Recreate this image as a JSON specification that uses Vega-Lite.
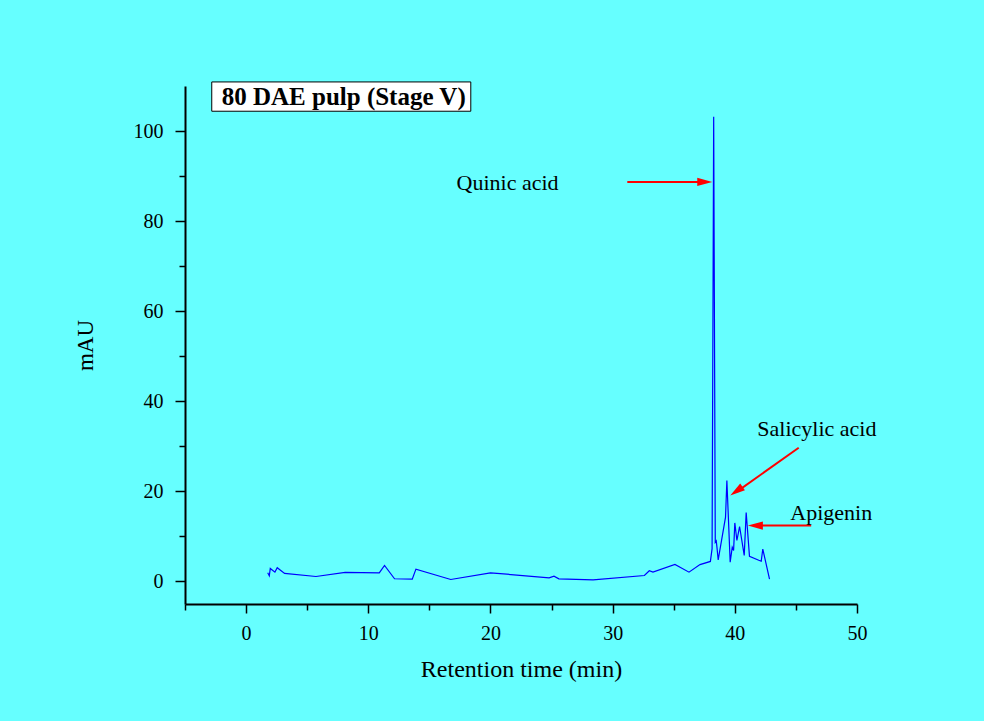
{
  "$schema": "https://vega.github.io/schema/vega-lite/v6.json",
  "width": 672,
  "height": 518,
  "autosize": {"type": "none"},
  "padding": {"left": 185, "top": 86, "right": 127, "bottom": 117},
  "background": "#66FFFF",
  "config": {"view": {"stroke": null}, "font": "Liberation Serif"},
  "datasets": {
    "trace": [
      {"t": 1.77, "mAU": 1.93}, {"t": 1.90, "mAU": 1.27}, {"t": 1.98, "mAU": 2.90},
      {"t": 2.36, "mAU": 2.07}, {"t": 2.55, "mAU": 3.04}, {"t": 3.15, "mAU": 1.78},
      {"t": 5.72, "mAU": 1.11}, {"t": 8.11, "mAU": 2.00}, {"t": 10.90, "mAU": 1.93},
      {"t": 11.33, "mAU": 3.56}, {"t": 12.15, "mAU": 0.60}, {"t": 13.60, "mAU": 0.52},
      {"t": 13.90, "mAU": 2.74}, {"t": 16.75, "mAU": 0.44}, {"t": 20.00, "mAU": 1.93},
      {"t": 24.80, "mAU": 0.81}, {"t": 25.20, "mAU": 1.19}, {"t": 25.60, "mAU": 0.59},
      {"t": 28.40, "mAU": 0.37}, {"t": 32.60, "mAU": 1.33}, {"t": 33.00, "mAU": 2.37},
      {"t": 33.30, "mAU": 2.07}, {"t": 35.10, "mAU": 3.78}, {"t": 36.25, "mAU": 2.07},
      {"t": 37.15, "mAU": 3.75}, {"t": 38.00, "mAU": 4.45}, {"t": 38.14, "mAU": 7.30},
      {"t": 38.27, "mAU": 103.2}, {"t": 38.40, "mAU": 8.7}, {"t": 38.48, "mAU": 9.0},
      {"t": 38.53, "mAU": 7.8}, {"t": 38.64, "mAU": 4.8}, {"t": 39.24, "mAU": 14.3},
      {"t": 39.35, "mAU": 22.4}, {"t": 39.62, "mAU": 4.3}, {"t": 39.79, "mAU": 7.6},
      {"t": 39.90, "mAU": 6.9}, {"t": 40.00, "mAU": 13.0}, {"t": 40.17, "mAU": 9.1},
      {"t": 40.39, "mAU": 12.2}, {"t": 40.77, "mAU": 5.8}, {"t": 40.93, "mAU": 15.3},
      {"t": 41.20, "mAU": 5.6}, {"t": 41.96, "mAU": 4.7}, {"t": 42.16, "mAU": 4.5},
      {"t": 42.29, "mAU": 7.2}, {"t": 42.84, "mAU": 0.5}
    ],
    "arrows": [
      {"name": "Quinic acid", "t": 31.2, "mAU": 88.7, "t2": 37.7, "mAU2": 88.7},
      {"name": "Salicylic acid", "t": 45.23, "mAU": 29.7, "t2": 40.2, "mAU2": 20.0},
      {"name": "Apigenin", "t": 46.25, "mAU": 12.4, "t2": 41.5, "mAU2": 12.4}
    ],
    "heads": [
      {"name": "Quinic acid", "t": 37.54, "mAU": 88.7},
      {"name": "Salicylic acid", "t": 40.13, "mAU": 20.07},
      {"name": "Apigenin", "t": 41.68, "mAU": 12.4}
    ],
    "labels": [
      {"name": "Quinic acid", "t": 21.4, "mAU": 86.9},
      {"name": "Salicylic acid", "t": 46.72, "mAU": 32.2},
      {"name": "Apigenin", "t": 47.89, "mAU": 13.7}
    ],
    "box": [
      {"name": "80 DAE pulp (Stage V)", "t": -2.81, "t2": 18.39, "mAU": 104.4, "mAU2": 110.9, "tc": 7.99, "yc": 105.7}
    ]
  },
  "layer": [
    {
      "data": {"name": "trace"},
      "mark": {"type": "line", "color": "#0000FF", "strokeWidth": 1.2, "clip": false},
      "encoding": {
        "x": {
          "field": "t", "type": "quantitative",
          "scale": {"domain": [-5, 50], "nice": false, "zero": false},
          "axis": {
            "title": "Retention time (min)",
            "values": [-5, 0, 5, 10, 15, 20, 25, 30, 35, 40, 45, 50],
            "labelExpr": "datum.value % 10 === 0 ? datum.label : ''",
            "grid": false,
            "domainColor": "black", "domainWidth": 2,
            "tickColor": "black", "tickWidth": 1.5,
            "tickSize": {"condition": {"test": "datum.value % 10 === 0", "value": 9}, "value": 6},
            "labelFont": "Liberation Serif", "labelFontSize": 20, "labelColor": "black",
            "labelPadding": 10, "labelFlush": false, "labelOverlap": false,
            "titleFont": "Liberation Serif", "titleFontSize": 24, "titleFontWeight": "normal",
            "titleColor": "black", "titlePadding": 14
          }
        },
        "y": {
          "field": "mAU", "type": "quantitative",
          "scale": {"domain": [-5, 110], "nice": false, "zero": false},
          "axis": {
            "title": "mAU",
            "values": [0, 10, 20, 30, 40, 50, 60, 70, 80, 90, 100],
            "labelExpr": "datum.value % 20 === 0 ? datum.label : ''",
            "grid": false,
            "domainColor": "black", "domainWidth": 2,
            "tickColor": "black", "tickWidth": 1.5,
            "tickSize": {"condition": {"test": "datum.value % 20 === 0", "value": 10}, "value": 6},
            "labelFont": "Liberation Serif", "labelFontSize": 20, "labelColor": "black",
            "labelPadding": 12, "labelFlush": false, "labelOverlap": false,
            "titleFont": "Liberation Serif", "titleFontSize": 23, "titleFontWeight": "normal",
            "titleColor": "black", "titlePadding": 36
          }
        }
      }
    },
    {
      "data": {"name": "arrows"},
      "mark": {"type": "rule", "color": "#FF0000", "strokeWidth": 2},
      "encoding": {
        "x": {"field": "t", "type": "quantitative"},
        "x2": {"field": "t2"},
        "y": {"field": "mAU", "type": "quantitative"},
        "y2": {"field": "mAU2"}
      }
    },
    {
      "data": {"name": "heads"},
      "transform": [{"filter": "datum.name === 'Quinic acid'"}],
      "mark": {"type": "point", "shape": "M -1 -0.55 L 1 0 L -1 0.55 Z", "size": 225, "filled": true, "color": "#FF0000", "opacity": 1, "strokeWidth": 0, "angle": 0},
      "encoding": {
        "x": {"field": "t", "type": "quantitative"},
        "y": {"field": "mAU", "type": "quantitative"}
      }
    },
    {
      "data": {"name": "heads"},
      "transform": [{"filter": "datum.name === 'Salicylic acid'"}],
      "mark": {"type": "point", "shape": "M -1 -0.55 L 1 0 L -1 0.55 Z", "size": 225, "filled": true, "color": "#FF0000", "opacity": 1, "strokeWidth": 0, "angle": 145},
      "encoding": {
        "x": {"field": "t", "type": "quantitative"},
        "y": {"field": "mAU", "type": "quantitative"}
      }
    },
    {
      "data": {"name": "heads"},
      "transform": [{"filter": "datum.name === 'Apigenin'"}],
      "mark": {"type": "point", "shape": "M -1 -0.55 L 1 0 L -1 0.55 Z", "size": 225, "filled": true, "color": "#FF0000", "opacity": 1, "strokeWidth": 0, "angle": 180},
      "encoding": {
        "x": {"field": "t", "type": "quantitative"},
        "y": {"field": "mAU", "type": "quantitative"}
      }
    },
    {
      "data": {"name": "labels"},
      "mark": {"type": "text", "font": "Liberation Serif", "fontSize": 22, "color": "black", "align": "center", "baseline": "alphabetic"},
      "encoding": {
        "x": {"field": "t", "type": "quantitative"},
        "y": {"field": "mAU", "type": "quantitative"},
        "text": {"field": "name"}
      }
    },
    {
      "data": {"name": "box"},
      "mark": {"type": "rect", "fill": "white", "stroke": "black", "strokeWidth": 1, "clip": false},
      "encoding": {
        "x": {"field": "t", "type": "quantitative"},
        "x2": {"field": "t2"},
        "y": {"field": "mAU", "type": "quantitative"},
        "y2": {"field": "mAU2"}
      }
    },
    {
      "data": {"name": "box"},
      "mark": {"type": "text", "font": "Liberation Serif", "fontSize": 25, "fontWeight": "bold", "color": "black", "align": "center", "baseline": "alphabetic"},
      "encoding": {
        "x": {"field": "tc", "type": "quantitative"},
        "y": {"field": "yc", "type": "quantitative"},
        "text": {"field": "name"}
      }
    }
  ]
}
